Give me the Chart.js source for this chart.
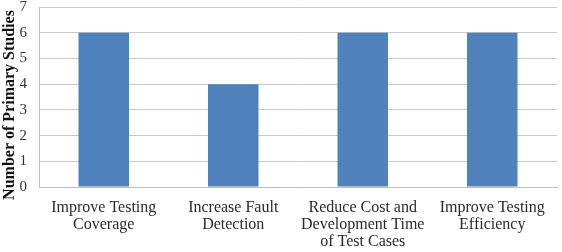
<!DOCTYPE html>
<html>
<head>
<meta charset="utf-8">
<script src="https://cdn.jsdelivr.net/npm/chart.js@4"></script>
<style>
  html, body { margin: 0; padding: 0; background: #fff; }
  #wrap { width: 562px; height: 252px; }
</style>
</head>
<body>
<div id="wrap"><canvas id="chart"></canvas></div>
<script>
const categories = [
  ['Improve Testing', 'Coverage'],
  ['Increase Fault', 'Detection'],
  ['Reduce Cost and', 'Development Time', 'of Test Cases'],
  ['Improve Testing', 'Efficiency']
];
const studies = [6, 4, 6, 6];
const yTicks = [0, 1, 2, 3, 4, 5, 6, 7];

const serif = '"Liberation Serif", "DejaVu Serif", serif';

new Chart(document.getElementById('chart'), {
  type: 'bar',
  data: {
    labels: categories,
    datasets: [{
      label: 'Number of Primary Studies',
      data: studies,
      backgroundColor: '#4f81bd',
      categoryPercentage: 1,
      barPercentage: 0.39
    }]
  },
  options: {
    responsive: true,
    maintainAspectRatio: false,
    animation: false,
    layout: { padding: { top: 0, right: 5, left: 0, bottom: 0 } },
    plugins: {
      legend: { display: false },
      tooltip: { enabled: false }
    },
    scales: {
      x: {
        grid: { display: false, drawTicks: false },
        border: { color: '#bfbfbf' },
        ticks: {
          color: '#2a2a2a',
          font: { family: serif, size: 16, lineHeight: 1.07 },
          padding: 12,
          maxRotation: 0,
          autoSkip: false
        },
        afterFit: s => {
          s.height = 65;
          s.paddingLeft = 0;
          s.paddingRight = 0;
        }
      },
      y: {
        min: 0,
        max: 7,
        afterBuildTicks: s => { s.ticks = yTicks.map(v => ({ value: v })); },
        grid: { color: '#c8c8c8', drawTicks: false },
        border: { color: '#bfbfbf' },
        ticks: {
          color: '#333',
          font: { family: serif, size: 15 },
          padding: 12
        },
        title: {
          display: true,
          // trailing spaces nudge the rotated title down a little
          text: 'Number of Primary Studies    ',
          color: '#111',
          font: { family: serif, size: 16, weight: 'bold' },
          padding: { top: 0, bottom: 1 }
        },
        afterFit: s => {
          s.width = 39;
          s.paddingTop = 7;
          s.paddingBottom = 0;
        }
      }
    }
  }
});
</script>
</body>
</html>
